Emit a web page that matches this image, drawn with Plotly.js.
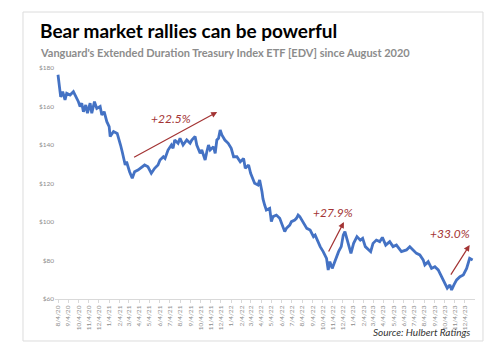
<!DOCTYPE html>
<html>
<head>
<meta charset="utf-8">
<script src="https://cdn.plot.ly/plotly-3.0.1.min.js"></script>
<style>html,body{margin:0;padding:0;background:#fff;}#chart{width:500px;height:354px;}</style>
</head>
<body>
<div id="chart"></div>
<script>
// ---- data ----
const dates = [
 '2020-08-04','2020-08-08','2020-08-12','2020-08-18','2020-08-25','2020-08-30','2020-09-09','2020-09-19','2020-09-27',
 '2020-10-04','2020-10-09','2020-10-14','2020-10-19','2020-10-26','2020-10-31','2020-11-08','2020-11-13','2020-11-21','2020-11-28',
 '2020-12-08','2020-12-13','2020-12-20','2020-12-28','2021-01-04','2021-01-07','2021-01-17','2021-01-28','2021-02-02','2021-02-07',
 '2021-02-12','2021-02-16','2021-02-21','2021-02-25','2021-03-02','2021-03-06','2021-03-14','2021-03-21','2021-03-31','2021-04-11',
 '2021-04-20','2021-04-30','2021-05-10','2021-05-20','2021-05-30','2021-06-05','2021-06-15','2021-06-20','2021-06-29','2021-07-09',
 '2021-07-14','2021-07-19','2021-07-29','2021-08-04','2021-08-13','2021-08-24','2021-09-03','2021-09-08','2021-09-18','2021-09-23',
 '2021-10-03','2021-10-08','2021-10-18','2021-10-23','2021-10-28','2021-11-02','2021-11-12','2021-11-17','2021-11-22','2021-11-27',
 '2021-12-02','2021-12-07','2021-12-16','2021-12-26','2022-01-04','2022-01-11','2022-01-21','2022-01-31','2022-02-10','2022-02-15',
 '2022-02-25','2022-03-03','2022-03-10','2022-03-15','2022-03-25','2022-03-30','2022-04-06','2022-04-09','2022-04-14','2022-04-19',
 '2022-04-29','2022-05-04','2022-05-09','2022-05-19','2022-05-29','2022-06-04','2022-06-13','2022-06-18','2022-06-28','2022-07-03',
 '2022-07-13','2022-07-18','2022-07-23','2022-07-28','2022-08-07','2022-08-18','2022-08-28','2022-09-07','2022-09-12','2022-09-22',
 '2022-09-27','2022-10-06','2022-10-16','2022-10-21','2022-10-26','2022-11-02','2022-11-11','2022-11-21','2022-11-29','2022-12-05',
 '2022-12-10','2022-12-20','2022-12-28','2023-01-05','2023-01-15','2023-01-25','2023-02-01','2023-02-09','2023-02-18','2023-02-25',
 '2023-03-04','2023-03-14','2023-03-24','2023-04-01','2023-04-11','2023-04-23','2023-05-03','2023-05-13','2023-05-28','2023-06-12',
 '2023-06-22','2023-07-02','2023-07-12','2023-07-22','2023-08-01','2023-08-06','2023-08-16','2023-08-26','2023-09-05','2023-09-15',
 '2023-09-25','2023-10-05','2023-10-12','2023-10-20','2023-10-25','2023-11-01','2023-11-09','2023-11-19','2023-11-29','2023-12-09',
 '2023-12-14','2023-12-18','2023-12-27'
];
const prices = [
 176.5,169.5,165.0,167.7,163.4,166.9,166.0,167.7,165.0,
 162.5,160.0,161.7,157.3,160.8,156.5,161.7,156.5,162.5,159.0,
 160.0,155.6,157.3,152.1,149.6,144.4,147.0,146.0,143.5,140.0,
 136.5,133.0,129.6,131.3,127.9,126.1,122.7,126.1,127.0,128.7,
 129.6,128.7,125.3,127.9,129.6,132.2,133.9,133.0,137.4,140.0,
 138.3,142.6,140.9,143.5,140.0,142.6,140.9,142.6,144.4,140.0,
 135.7,137.4,132.2,136.5,140.0,137.4,139.1,135.7,142.6,143.5,
 147.8,145.2,142.6,140.9,138.3,133.9,133.9,131.3,133.0,127.9,
 129.6,125.3,122.7,120.1,119.2,121.8,115.7,112.0,108.8,106.2,
 107.1,100.2,102.8,103.6,101.9,99.3,95.0,96.7,98.4,100.2,
 101.0,101.9,103.6,102.8,100.2,96.7,95.8,92.4,93.2,88.9,
 87.2,84.6,81.1,75.1,79.4,75.9,80.3,84.6,87.2,93.2,
 95.0,88.9,83.7,88.9,92.4,90.6,91.5,87.2,85.5,84.6,
 88.9,90.6,89.8,92.0,88.0,89.8,87.2,88.0,84.6,85.5,
 87.2,85.5,83.7,82.9,80.3,77.7,79.4,75.9,76.8,75.1,
 71.6,68.2,65.6,67.3,64.7,67.3,69.9,71.6,72.5,75.9,
 79.4,81.1,80.3
];
const tickDates = [
 '2020-08-04','2020-09-04','2020-10-04','2020-11-04','2020-12-04',
 '2021-01-04','2021-02-04','2021-03-04','2021-04-04','2021-05-04','2021-06-04','2021-07-04','2021-08-04','2021-09-04','2021-10-04','2021-11-04','2021-12-04',
 '2022-01-04','2022-02-04','2022-03-04','2022-04-04','2022-05-04','2022-06-04','2022-07-04','2022-08-04','2022-09-04','2022-10-04','2022-11-04','2022-12-04',
 '2023-01-04','2023-02-04','2023-03-04','2023-04-04','2023-05-04','2023-06-04','2023-07-04','2023-08-04','2023-09-04','2023-10-04','2023-11-04','2023-12-04'
];
const tickLabels = [
 '8/4/20','9/4/20','10/4/20','11/4/20','12/4/20',
 '1/4/21','2/4/21','3/4/21','4/4/21','5/4/21','6/4/21','7/4/21','8/4/21','9/4/21','10/4/21','11/4/21','12/4/21',
 '1/4/22','2/4/22','3/4/22','4/4/22','5/4/22','6/4/22','7/4/22','8/4/22','9/4/22','10/4/22','11/4/22','12/4/22',
 '1/4/23','2/4/23','3/4/23','4/4/23','5/4/23','6/4/23','7/4/23','8/4/23','9/4/23','10/4/23','11/4/23','12/4/23'
];
const yTickVals = [60, 80, 100, 120, 140, 160, 180];
const yTickLabels = ['$60', '$80', '$100', '$120', '$140', '$160', '$180'];
const rallyLabels = ['+22.5%', '+27.9%', '+33.0%'];
const rallyFrom = [['2021-03-15', 133.2], ['2022-10-20', 83.9], ['2023-10-20', 71.9]];
const rallyTo   = [['2021-11-23', 157.1], ['2022-12-07', 100.0], ['2023-12-18', 88.0]];
const rallyText = [['2021-07-07', 154.0], ['2022-11-05', 104.7], ['2023-10-20', 93.8]];

// ---- chart ----
const RED = '#a33434';
const annotations = [];
for (let i = 0; i < rallyLabels.length; i++) {
  annotations.push({
    x: rallyTo[i][0], y: rallyTo[i][1], ax: rallyFrom[i][0], ay: rallyFrom[i][1],
    xref: 'x', yref: 'y', axref: 'x', ayref: 'y', text: '', showarrow: true,
    arrowhead: 2, arrowsize: 1, arrowwidth: 1.2, arrowcolor: RED
  });
  annotations.push({
    x: rallyText[i][0], y: rallyText[i][1], xref: 'x', yref: 'y', showarrow: false,
    text: '<i>' + rallyLabels[i] + '</i>', font: {family: 'Lato', size: 12, color: RED}
  });
}
annotations.push({
  xref: 'paper', yref: 'paper', x: -0.0405, y: 1.162, xanchor: 'left', yanchor: 'middle',
  text: '<b>Bear market rallies can be powerful</b>', showarrow: false,
  font: {family: 'Lato', size: 19, color: '#000'}
});
annotations.push({
  xref: 'paper', yref: 'paper', x: -0.0405, y: 1.068, xanchor: 'left', yanchor: 'middle',
  text: "<b>Vanguard's Extended Duration Treasury Index ETF [EDV] since August 2020</b>", showarrow: false,
  font: {family: 'Lato', size: 11, color: '#8c8c8c'}
});
annotations.push({
  xref: 'paper', yref: 'paper', x: 0.993, y: -0.143, xanchor: 'right', yanchor: 'middle',
  text: '<i>Source: Hulbert Ratings</i>', showarrow: false,
  font: {family: 'Lato', size: 10, color: '#333'}
});

const layout = {
  width: 500, height: 354,
  margin: {l: 55, r: 25, t: 68, b: 55},
  paper_bgcolor: '#fff', plot_bgcolor: '#fff',
  showlegend: false,
  xaxis: {
    type: 'date', range: ['2020-07-26', '2024-01-03'],
    tickmode: 'array', tickvals: tickDates, ticktext: tickLabels, tickangle: -90,
    tickfont: {family: 'Lato', size: 6.5, color: '#8c8c8c'},
    showgrid: false, zeroline: false, showline: true, linecolor: '#d9d9d9', linewidth: 1,
    ticks: 'outside', ticklen: 3, tickcolor: '#d9d9d9'
  },
  yaxis: {
    range: [60, 180], tickmode: 'array', tickvals: yTickVals, ticktext: yTickLabels,
    tickfont: {family: 'Lato', size: 6.5, color: '#8c8c8c'},
    showgrid: false, zeroline: false, showline: false, ticks: ''
  },
  shapes: [{
    type: 'rect', xref: 'paper', yref: 'paper',
    x0: -0.0762, x1: 1.019, y0: -0.1818, y1: 1.2424,
    line: {color: '#dcdcdc', width: 1}, fillcolor: 'rgba(0,0,0,0)', layer: 'below'
  }],
  annotations: annotations
};

Plotly.newPlot('chart', [{
  type: 'scatter', mode: 'lines', x: dates, y: prices,
  line: {color: '#4472c4', width: 2.8}, hoverinfo: 'skip'
}], layout, {displayModeBar: false, staticPlot: true});
</script>
</body>
</html>
